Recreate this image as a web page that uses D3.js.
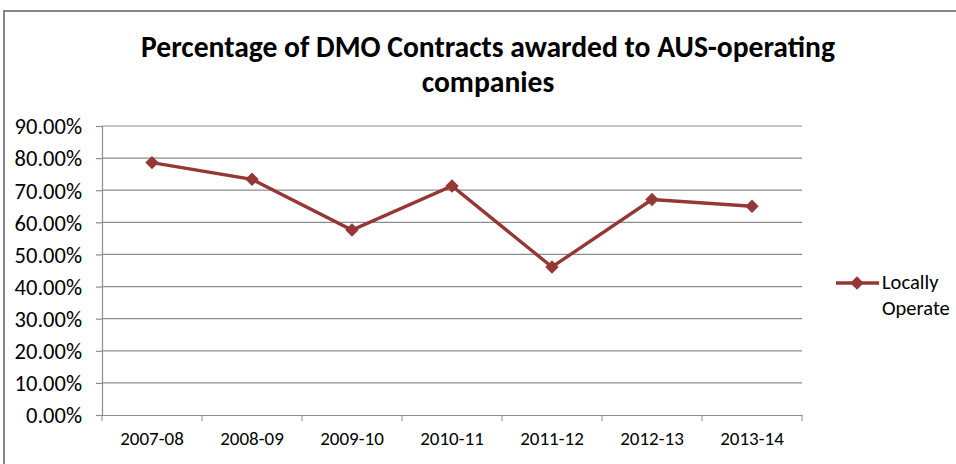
<!DOCTYPE html>
<html>
<head>
<meta charset="utf-8">
<script src="https://cdn.jsdelivr.net/npm/d3@7"></script>
<style>
  body { margin: 0; background: #fff; }
  text { font-family: Carlito, Calibri, "Open Sans", sans-serif; fill: #000; }
</style>
</head>
<body>
<div id="chart"></div>
<script>
const width = 956,
    height = 464;

// data
const years = ["2007-08", "2008-09", "2009-10", "2010-11", "2011-12", "2012-13", "2013-14"];
const locallyOperate = [0.786, 0.734, 0.576, 0.713, 0.461, 0.671, 0.650];
const yTicks = [0, 0.1, 0.2, 0.3, 0.4, 0.5, 0.6, 0.7, 0.8, 0.9];

const svg = d3.select("#chart")
  .append("svg")
  .attr("width", width)
  .attr("height", height);

// chart frame
svg.append("rect")
  .attr("x", 4).attr("y", 11)
  .attr("width", 960).attr("height", 470)
  .attr("fill", "none")
  .attr("stroke", "#868686")
  .attr("stroke-width", 2);

// title
svg.append("text")
  .attr("x", 488).attr("y", 57)
  .attr("text-anchor", "middle")
  .attr("font-size", 29.6)
  .attr("font-weight", "bold")
  .text("Percentage of DMO Contracts awarded to AUS-operating");
svg.append("text")
  .attr("x", 488).attr("y", 92)
  .attr("text-anchor", "middle")
  .attr("font-size", 29.6)
  .attr("font-weight", "bold")
  .text("companies");

const x = d3.scaleBand().domain(years).range([102, 802]);
const y = d3.scaleLinear().domain([0, 0.9]).range([415, 126]);

// gridlines
svg.append("g")
  .selectAll("line")
  .data(yTicks.slice(1))
  .enter().append("line")
  .attr("x1", 102).attr("x2", 802)
  .attr("y1", d => y(d)).attr("y2", d => y(d))
  .attr("stroke", "#8c8c8c")
  .attr("stroke-width", 1.2);

// y axis
const yAxis = svg.append("g")
  .attr("transform", "translate(102,0)")
  .call(d3.axisLeft(y).tickValues(yTicks).tickFormat(d3.format(".2%")).tickSize(6).tickPadding(14));
yAxis.selectAll("text").attr("font-size", 22.5).attr("dy", "0.35em");

// x axis
const xAxis = svg.append("g")
  .attr("transform", "translate(0,415)")
  .call(d3.axisBottom(x).tickSize(0).tickPadding(17));
xAxis.selectAll("text").attr("font-size", 19);

// category separators below axis
svg.append("g")
  .selectAll("line")
  .data(years.concat(["end"]))
  .enter().append("line")
  .attr("x1", (d, i) => 102 + i * x.step())
  .attr("x2", (d, i) => 102 + i * x.step())
  .attr("y1", 415).attr("y2", 421)
  .attr("stroke", "#8c8c8c");

svg.selectAll(".domain, .tick line").attr("stroke", "#8c8c8c").attr("stroke-width", 1.2);

const color = "#953735";

const line = d3.line()
  .x((d, i) => x(years[i]) + x.bandwidth() / 2)
  .y(d => y(d));

svg.append("path")
  .datum(locallyOperate)
  .attr("d", line)
  .attr("fill", "none")
  .attr("stroke", color)
  .attr("stroke-width", 3.4);

const diamond = d3.symbol().type(d3.symbolDiamond2).size(115);

svg.selectAll(".marker")
  .data(locallyOperate)
  .enter().append("path")
  .attr("class", "marker")
  .attr("d", diamond)
  .attr("transform", (d, i) => "translate(" + (x(years[i]) + x.bandwidth() / 2) + "," + y(d) + ")")
  .attr("fill", color);

// legend
const legend = svg.append("g");
legend.append("line")
  .attr("x1", 836).attr("x2", 879)
  .attr("y1", 283).attr("y2", 283)
  .attr("stroke", color)
  .attr("stroke-width", 3.4);
legend.append("path")
  .attr("d", diamond)
  .attr("transform", "translate(857,283)")
  .attr("fill", color);
legend.append("text")
  .attr("x", 882).attr("y", 289)
  .attr("font-size", 20.5)
  .text("Locally");
legend.append("text")
  .attr("x", 882).attr("y", 315)
  .attr("font-size", 20.5)
  .text("Operate");
</script>
</body>
</html>
